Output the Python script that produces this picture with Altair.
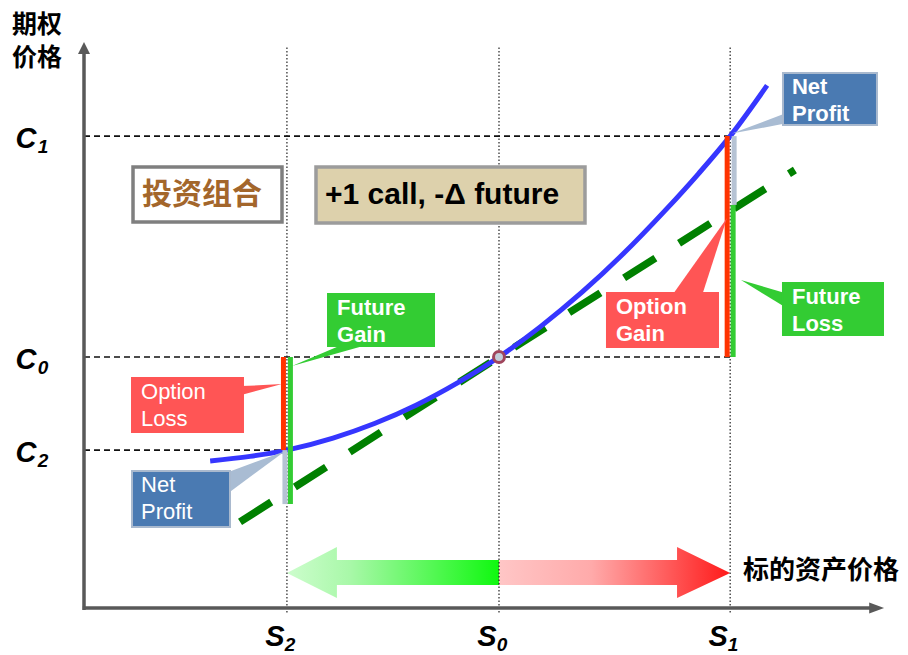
import altair as alt
import pandas as pd

# ---------------- values ----------------
# underlying price levels S2, S0, S1
S_SUB = ["2", "0", "1"]
S_LEVEL = [48.9, 100.0, 155.7]

# option price levels C1, C0, C2
C_SUB = ["1", "0", "2"]
C_LEVEL = [18.8, 10.0, 6.29]

# call value against the underlying price
CURVE_S = [30.4, 40.0, 48.9, 60.0, 70.0, 80.0, 90.0, 100.0, 110.0,
           120.0, 130.0, 140.0, 148.0, 155.7, 164.6]
CURVE_C = [5.86, 6.04, 6.29, 6.77, 7.35, 8.08, 8.97, 10.0, 11.21,
           12.58, 14.12, 15.83, 17.29, 18.80, 20.82]

# delta line through (S0, C0)
DELTA_S = [37.6, 100.0, 171.3]
DELTA_C = [3.43, 10.0, 17.45]

# level of the delta line at the two moves
DELTA_AT_S1 = 16.06
DELTA_AT_S2 = 4.14

S2, S0, S1 = S_LEVEL
C1, C0, C2 = C_LEVEL

# ---------------- frame ----------------
W, H = 908, 655
ORIGIN_PX = (84, 608)
PX_PER_X = 4.15
PX_PER_Y = 25.1
X_DOM = [-ORIGIN_PX[0] / PX_PER_X, (W - ORIGIN_PX[0]) / PX_PER_X]
Y_DOM = [-(H - ORIGIN_PX[1]) / PX_PER_Y, ORIGIN_PX[1] / PX_PER_Y]
XS = alt.Scale(domain=X_DOM, nice=False, zero=False)
YS = alt.Scale(domain=Y_DOM, nice=False, zero=False)

LATIN = "Liberation Sans"
CJK = "Noto Sans CJK SC"
AXIS_GREY = "#595959"


def xy(chart, x="x", y="y"):
    return chart.encode(x=alt.X(f"{x}:Q", scale=XS, axis=None),
                        y=alt.Y(f"{y}:Q", scale=YS, axis=None))


def seg(chart):
    return chart.encode(x=alt.X("x:Q", scale=XS, axis=None),
                        y=alt.Y("y:Q", scale=YS, axis=None),
                        x2="x2:Q", y2="y2:Q")


layers = []

# ---- bottom direction arrows (fall to S2 / rise to S1) ----
HEAD_L, HEAD_R = 12.04, 12.8
SHAFT = (1.91, 0.92)
HEAD = (2.43, 0.40)
TIP_Y = 1.39
left_arrow = pd.DataFrame({
    "x": [S2, S2 + HEAD_L, S2 + HEAD_L, S0, S0, S2 + HEAD_L, S2 + HEAD_L],
    "y": [TIP_Y, HEAD[0], SHAFT[0], SHAFT[0], SHAFT[1], SHAFT[1], HEAD[1]],
    "k": list(range(7)),
})
right_arrow = pd.DataFrame({
    "x": [S0, S1 - HEAD_R, S1 - HEAD_R, S1, S1 - HEAD_R, S1 - HEAD_R, S0],
    "y": [SHAFT[0], SHAFT[0], HEAD[0], TIP_Y, HEAD[1], SHAFT[1], SHAFT[1]],
    "k": list(range(7)),
})
green_grad = alt.Gradient(gradient="linear", x1=0, x2=1, y1=0, y2=0,
                          stops=[alt.GradientStop(color="#CDFDCD", offset=0),
                                 alt.GradientStop(color="#A8F8A8", offset=0.3),
                                 alt.GradientStop(color="#10F810", offset=1)])
red_grad = alt.Gradient(gradient="linear", x1=0, x2=1, y1=0, y2=0,
                        stops=[alt.GradientStop(color="#FFC6C6", offset=0),
                               alt.GradientStop(color="#FFAAAA", offset=0.4),
                               alt.GradientStop(color="#FF1A1A", offset=1)])
layers.append(xy(alt.Chart(left_arrow).mark_line(filled=True, color=green_grad)).encode(order="k:Q"))
layers.append(xy(alt.Chart(right_arrow).mark_line(filled=True, color=red_grad)).encode(order="k:Q"))

# ---- guide lines ----
h_guides = pd.DataFrame({"x": [0, 0, 0], "x2": [S1, S1, S2],
                         "y": C_LEVEL, "y2": C_LEVEL})
layers.append(seg(alt.Chart(h_guides).mark_rule(strokeDash=[6, 4], strokeWidth=1.6, color="#111111")))
v_guides = pd.DataFrame({"x": S_LEVEL, "x2": S_LEVEL,
                         "y": [-0.18] * 3, "y2": [22.4] * 3})
layers.append(seg(alt.Chart(v_guides).mark_rule(strokeDash=[1.5, 2], strokeWidth=1.2, color="#222222")))

# ---- axes ----
axes = pd.DataFrame({"x": [0, -0.3], "x2": [0, 189.6],
                     "y": [-0.08, 0], "y2": [22.1, 0]})
layers.append(seg(alt.Chart(axes).mark_rule(color=AXIS_GREY, strokeWidth=3.5)))

# ---- delta line and call curve ----
delta_df = pd.DataFrame({"x": DELTA_S, "y": DELTA_C})
layers.append(xy(alt.Chart(delta_df).mark_line(color="#008000", strokeWidth=7.5,
                                                strokeDash=[37, 28])))
curve_df = pd.DataFrame({"x": CURVE_S, "y": CURVE_C})
layers.append(xy(alt.Chart(curve_df).mark_line(color="#3636FF", strokeWidth=5,
                                                interpolate="monotone")))

# ---- gain / loss bars at S1 and S2 ----
RED, GREEN, GREY = "#FF3300", "#33CC33", "#B6C3D4"
bars = pd.DataFrame({
    "x": [S1 - 0.72, S1 + 0.72, S1 + 0.96, S2 - 0.84, S2 + 0.84, S2 - 0.48],
    "y": [C0, C0, DELTA_AT_S1, C0, C0, C2],
    "y2": [C1, DELTA_AT_S1, C1, C2, DELTA_AT_S2, DELTA_AT_S2],
    "c": [RED, GREEN, GREY, RED, GREEN, GREY],
})
layers.append(xy(alt.Chart(bars).mark_rule(strokeWidth=5)).encode(
    y2="y2:Q", color=alt.Color("c:N", scale=None)))

# ---- starting point (S0, C0) ----
layers.append(xy(alt.Chart(pd.DataFrame({"x": [S0], "y": [C0]})).mark_point(
    filled=True, size=120, fill="#C3CDD9", stroke="#A0455C", strokeWidth=3, opacity=1)))

# ---- callouts ----
BLUE_BOX, RED_BOX, GREEN_BOX = "#4A7AB2", "#FF5555", "#33CC33"
POINTER_BLUE = "#A9BCD3"
callouts = [
    # x0, x1, top, bottom, fill, stroke, line1, line2, bold, pointer(base1, base2, tip), pointer colour
    (168.43, 191.08, 21.31, 19.24, BLUE_BOX, "#A9B9CE", "Net", "Profit", True,
     [(168.9, 19.70), (168.9, 19.30), (156.1, 18.90)], POINTER_BLUE),
    (168.43, 192.53, 12.95, 10.88, GREEN_BOX, GREEN_BOX, "Future", "Loss", True,
     [(168.9, 12.55), (168.9, 11.99), (158.3, 13.07)], GREEN_BOX),
    (126.02, 152.77, 12.55, 10.40, RED_BOX, RED_BOX, "Option", "Gain", True,
     [(141.69, 12.45), (148.92, 12.45), (154.94, 15.54)], RED_BOX),
    (58.80, 84.34, 12.51, 10.44, GREEN_BOX, GREEN_BOX, "Future", "Gain", True,
     [(62.89, 10.54), (69.40, 10.54), (50.12, 9.64)], GREEN_BOX),
    (11.57, 38.31, 9.16, 7.01, RED_BOX, RED_BOX, "Option", "Loss", False,
     [(37.9, 8.84), (37.9, 8.49), (47.71, 8.92)], RED_BOX),
    (11.57, 35.18, 5.46, 3.23, BLUE_BOX, "#A9B9CE", "Net", "Profit", False,
     [(34.8, 5.42), (34.8, 4.58), (48.43, 6.25)], POINTER_BLUE),
]

poly_rows = []
for i, co in enumerate(callouts):
    for k, (px, py) in enumerate(co[9]):
        poly_rows.append({"p": f"c{i}", "k": k, "x": px, "y": py, "c": co[10]})
# axis arrow heads
for k, (px, py) in enumerate([(-1.45, 22.07), (0, 22.55), (1.45, 22.07)]):
    poly_rows.append({"p": "ya", "k": k, "x": px, "y": py, "c": AXIS_GREY})
for k, (px, py) in enumerate([(189.2, 0.22), (192.8, 0), (189.2, -0.22)]):
    poly_rows.append({"p": "xa", "k": k, "x": px, "y": py, "c": AXIS_GREY})
poly_df = pd.DataFrame(poly_rows)
layers.append(xy(alt.Chart(poly_df).mark_line(filled=True)).encode(
    detail="p:N", order="k:Q", color=alt.Color("c:N", scale=None)))

boxes = pd.DataFrame(
    [{"x": c[0], "x2": c[1], "y": c[2], "y2": c[3], "f": c[4], "s": c[5], "w": 2}
     for c in callouts]
    + [{"x": 11.81, "x2": 47.71, "y": 17.57, "y2": 15.38, "f": "#FFFFFF", "s": "#7F7F7F", "w": 3.5},
       {"x": 55.90, "x2": 120.72, "y": 17.57, "y2": 15.34, "f": "#DDD1AC", "s": "#9C9C9C", "w": 3.5}]
)
layers.append(seg(alt.Chart(boxes).mark_rect()).encode(
    fill=alt.Fill("f:N", scale=None), stroke=alt.Stroke("s:N", scale=None),
    strokeWidth=alt.StrokeWidth("w:Q", scale=None)))

for bold in (True, False):
    rows = [c for c in callouts if c[8] == bold]
    tdf = pd.DataFrame({"x": [c[0] for c in rows], "y": [c[2] for c in rows],
                        "t1": [c[6] for c in rows], "t2": [c[7] for c in rows]})
    weight = "bold" if bold else "normal"
    for field, dy in (("t1", 14), ("t2", 41)):
        layers.append(xy(alt.Chart(tdf).mark_text(
            align="left", baseline="middle", dx=9, dy=dy, font=LATIN,
            fontSize=22, fontWeight=weight, color="white")).encode(text=f"{field}:N"))

# ---- box titles ----
layers.append(xy(alt.Chart(pd.DataFrame({"x": [28.43], "y": [16.47], "t": ["投资组合"]})).mark_text(
    font=CJK, fontSize=30, fontWeight="bold", baseline="middle", color="#A3662B")).encode(text="t:N"))
layers.append(xy(alt.Chart(pd.DataFrame({"x": [58.07], "y": [16.45], "t": ["+1 call,  -Δ future"]})).mark_text(
    font=LATIN, fontSize=30, fontWeight="bold", align="left", baseline="middle",
    color="black")).encode(text="t:N"))

# ---- axis labels ----
c_df = pd.DataFrame({"x": [0] * 3, "y": C_LEVEL, "sub": C_SUB, "t": ["C"] * 3})
layers.append(xy(alt.Chart(c_df).mark_text(
    font=LATIN, fontSize=29, fontWeight="bold", fontStyle="italic",
    baseline="middle", dx=-58, dy=3, color="black")).encode(text="t:N"))
layers.append(xy(alt.Chart(c_df).mark_text(
    font=LATIN, fontSize=19, fontWeight="bold", fontStyle="italic",
    baseline="middle", dx=-41, dy=11, color="black")).encode(text="sub:N"))

s_df = pd.DataFrame({"x": S_LEVEL, "y": [0] * 3, "sub": S_SUB, "t": ["S"] * 3})
layers.append(xy(alt.Chart(s_df).mark_text(
    font=LATIN, fontSize=29, fontWeight="bold", fontStyle="italic",
    baseline="middle", dx=-12, dy=29, color="black")).encode(text="t:N"))
layers.append(xy(alt.Chart(s_df).mark_text(
    font=LATIN, fontSize=19, fontWeight="bold", fontStyle="italic",
    baseline="middle", dx=3, dy=37, color="black")).encode(text="sub:N"))

axis_titles = pd.DataFrame({"x": [-11.33, -11.33], "y": [23.23, 21.91], "t": ["期权", "价格"]})
layers.append(xy(alt.Chart(axis_titles).mark_text(
    font=CJK, fontSize=25, fontWeight="bold", baseline="middle", color="black")).encode(text="t:N"))
layers.append(xy(alt.Chart(pd.DataFrame({"x": [158.8], "y": [1.47], "t": ["标的资产价格"]})).mark_text(
    font=CJK, fontSize=26, fontWeight="bold", align="left", baseline="middle",
    color="black")).encode(text="t:N"))

chart = alt.layer(*layers).properties(
    width=W, height=H, autosize="none", padding=0
).configure_view(strokeWidth=0)

chart.save("out.html", embed_options={"renderer": "svg", "actions": False})
